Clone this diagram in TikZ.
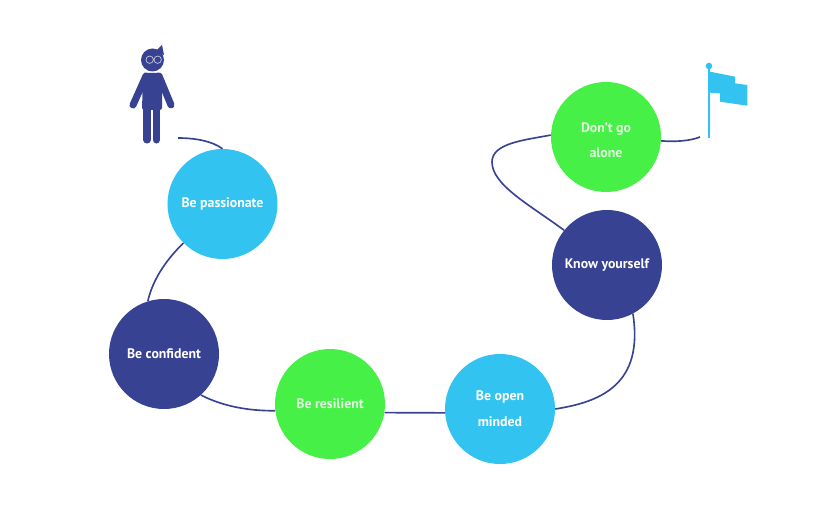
\documentclass[tikz,border=0pt]{standalone}
\usepackage{fontspec}
\setmainfont{PT Sans}
\usepackage{tikz}
\usetikzlibrary{positioning}
\definecolor{navy}{RGB}{56,66,146}
\definecolor{sky}{RGB}{50,195,240}
\definecolor{lime}{RGB}{70,240,70}

\begin{document}
\begin{tikzpicture}[x=0.03cm, y=-0.03cm,
        stop/.style={circle, minimum size=3.3cm, inner sep=0pt, text=white, align=center, font=\fontsize{11.8}{22}\selectfont\bfseries},
        navystop/.style={stop, fill=navy},
        skystop/.style={stop, fill=sky},
        limestop/.style={stop, fill=lime, text=white!85!lime},
        road/.style={draw=navy, line width=1.4pt},
    ]
        \useasboundingbox (0, 0) rectangle (835, 512);

        % Stops along the road
        \node[skystop] (passionate) at (222.5, 204) {Be passionate};
        \node[navystop] (confident) at (164, 354) {Be confident};
        \node[limestop] (resilient) at (330, 404) {Be resilient};
        \node[skystop] (openminded) at (500, 409) {Be open\\minded};
        \node[navystop] (yourself) at (607, 265) {Know yourself};
        \node[limestop] (alone) at (606, 137) {\rule{0pt}{14pt}Don't go\\alone};

        % Road
        \coordinate (start) at (178, 138);
        \coordinate (finish) at (700, 137);
        \draw[road] (start) .. controls (195, 138) and (212, 141) .. (passionate.90);
        \draw[road] (passionate.225) .. controls (168, 258) and (153, 278) .. (confident.107);
        \draw[road] (confident.-48) .. controls (222, 406) and (248, 411) .. (resilient.187);
        \draw[road] (resilient.-9) -- (openminded.184);
        \draw[road] (openminded.0) .. controls (600, 402) and (644, 385) .. (yourself.-62);
        \draw[road] (yourself.141) .. controls (530, 205) and (492, 185) .. (492, 162) .. controls (492, 143) and (525, 140) .. (alone.178);
        \draw[road] (alone.-4) .. controls (675, 142) and (690, 141) .. (finish);

        % Person
        \fill[navy] (152.5, 60) circle (11.5);
        \fill[navy] (150, 50) -- (157, 50) -- (162, 45) -- (164, 55) -- cycle;
        \draw[white!70!navy, line width=0.6pt] (149.7, 59.7) circle (3.7) (157.7, 59.7) circle (3.7);
        \fill[navy, rounded corners=2pt] (143, 73) -- (162, 73) -- (162, 110) -- (142, 110) -- cycle;
        \draw[navy, line width=6pt, line cap=round] (146, 76) -- (133, 105);
        \draw[navy, line width=6pt, line cap=round] (159, 76) -- (171, 105);
        \draw[navy, line width=6pt, line cap=round] (147, 108) -- (147, 140);
        \draw[navy, line width=6pt, line cap=round] (156.3, 108) -- (156.3, 140);

        % Flag
        \draw[sky, line width=2.2pt] (709, 66) -- (709, 138);
        \fill[sky] (709, 66) circle (3.3);
        \fill[sky] (710, 71.7) -- (735, 76.7) -- (735, 83.3) -- (747.3, 85) -- (747.3, 105.7) -- (720, 101.7) -- (720, 93.3) -- (710, 92.7) -- cycle;
    \end{tikzpicture}
\end{document}
